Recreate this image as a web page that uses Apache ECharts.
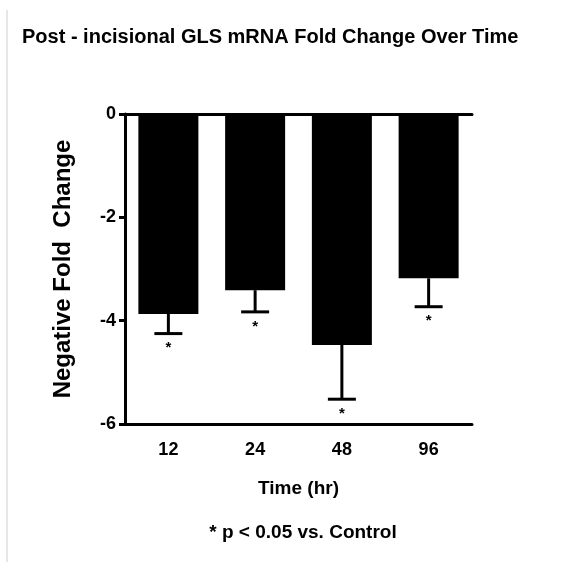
<!DOCTYPE html>
<html>
<head>
<meta charset="utf-8">
<script src="https://cdn.jsdelivr.net/npm/echarts@6/dist/echarts.min.js"></script>
<style>
  html, body { margin: 0; padding: 0; background: #fff; }
  #chart { width: 578px; height: 562px; }
</style>
</head>
<body>
<div id="chart"></div>
<script>
// ---- data ----
const timePoints = ['12', '24', '48', '96'];
const meanFoldChange = [-3.87, -3.41, -4.47, -3.18];
const errorLow = [-4.25, -3.83, -5.52, -3.73];
const significance = ['*', '*', '*', '*'];
const yTicks = { min: -6, max: 0, interval: 2 };

const FONT = '"Liberation Sans", Arial, sans-serif';

const errorData = timePoints.map((t, i) => [i, meanFoldChange[i], errorLow[i]]);

const chart = echarts.init(document.getElementById('chart'));
chart.setOption({
  backgroundColor: '#fff',
  animation: false,
  title: {
    text: 'Post - incisional GLS mRNA Fold Change Over Time',
    left: 17,
    top: 22,
    textStyle: { fontFamily: FONT, fontWeight: 'bold', fontSize: 20, color: '#000' }
  },
  grid: { left: 125, right: 106, top: 114, bottom: 138 },
  xAxis: [
    {
      type: 'category',
      data: timePoints,
      position: 'bottom',
      axisLine: { onZero: false, lineStyle: { color: '#000', width: 3 } },
      axisTick: { alignWithLabel: true, length: 8, lineStyle: { color: '#000', width: 3 } },
      axisLabel: { margin: 17, fontFamily: FONT, fontWeight: 'bold', fontSize: 18, color: '#000' },
      name: 'Time (hr)',
      nameLocation: 'middle',
      nameGap: 55,
      nameTextStyle: { fontFamily: FONT, fontWeight: 'bold', fontSize: 19, color: '#000' }
    },
    {
      type: 'category',
      data: timePoints,
      position: 'top',
      axisLine: { onZero: false, lineStyle: { color: '#000', width: 3 } },
      axisTick: { show: false },
      axisLabel: { show: false }
    }
  ],
  yAxis: {
    type: 'value',
    min: yTicks.min,
    max: yTicks.max,
    interval: yTicks.interval,
    axisLine: { show: true, lineStyle: { color: '#000', width: 3 } },
    axisTick: { show: true, length: 6, lineStyle: { color: '#000', width: 3 } },
    splitLine: { show: false },
    axisLabel: { margin: 9, fontFamily: FONT, fontWeight: 'bold', fontSize: 18, color: '#000' },
    name: 'Negative Fold  Change',
    nameLocation: 'middle',
    nameGap: 50,
    nameTextStyle: { fontFamily: FONT, fontWeight: 'bold', fontSize: 24, color: '#000' }
  },
  series: [
    {
      type: 'bar',
      data: meanFoldChange,
      barWidth: 60,
      itemStyle: { color: '#000' }
    },
    {
      type: 'custom',
      data: errorData,
      encode: { x: 0, y: [1, 2] },
      z: 3,
      renderItem: function (params, api) {
        const x = api.value(0);
        const p0 = api.coord([x, api.value(1)]);
        const p1 = api.coord([x, api.value(2)]);
        const capHalf = 14;
        return {
          type: 'group',
          children: [
            { type: 'line', shape: { x1: p0[0], y1: p0[1], x2: p1[0], y2: p1[1] }, style: { stroke: '#000', lineWidth: 3 } },
            { type: 'line', shape: { x1: p1[0] - capHalf, y1: p1[1], x2: p1[0] + capHalf, y2: p1[1] }, style: { stroke: '#000', lineWidth: 3 } },
            { type: 'text', x: p1[0], y: p1[1] + 7, style: { text: significance[params.dataIndex], font: 'bold 15px ' + FONT, fill: '#000', align: 'center', verticalAlign: 'top' } }
          ]
        };
      }
    }
  ],
  graphic: [
    { type: 'line', shape: { x1: 7, y1: 10, x2: 7, y2: 562 }, style: { stroke: '#cfcfcf', lineWidth: 1 } },
    {
      type: 'text', x: 303, y: 533,
      style: { text: '* p < 0.05 vs. Control', font: 'bold 19px ' + FONT, fill: '#000', align: 'center', verticalAlign: 'middle' }
    }
  ]
});
</script>
</body>
</html>
